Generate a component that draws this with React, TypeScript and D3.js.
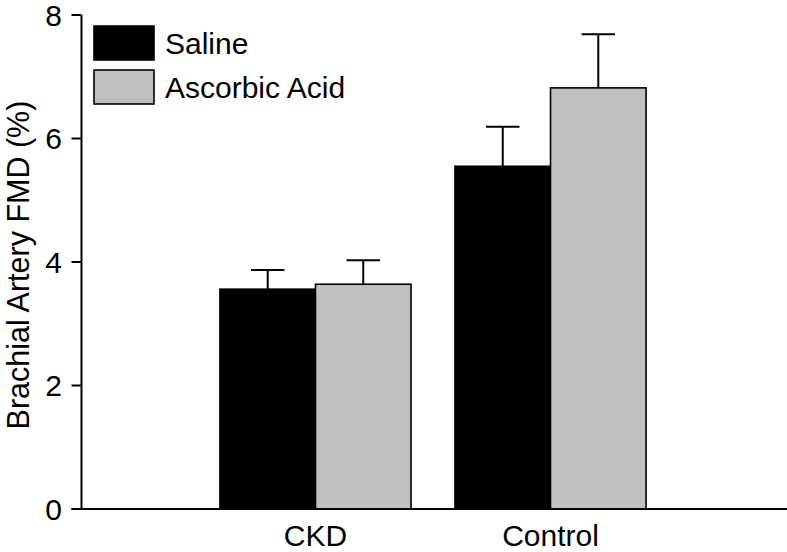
import React from "react";
import * as d3 from "d3";

const categories = ["CKD", "Control"];
const series = ["Saline", "Ascorbic Acid"];
const salineValues = [3.56, 5.55];
const salineErrors = [0.31, 0.64];
const ascorbicValues = [3.64, 6.82];
const ascorbicErrors = [0.39, 0.87];
const yTicks = [0, 2, 4, 6, 8];
const seriesColors = ["#000000", "#c0c0c0"];

const W = 787;
const H = 552;
const FONT = "'Liberation Sans', Arial, Helvetica, sans-serif";

export default function App() {
  const y = d3.scaleLinear().domain([0, 8]).range([509, 15]);
  const x0 = d3
    .scaleBand<string>()
    .domain(categories)
    .range([81.5, 784.5])
    .paddingInner(0.187)
    .paddingOuter(0.589);
  const x1 = d3.scaleBand<string>().domain(series).range([0, x0.bandwidth()]);
  const color = d3.scaleOrdinal<string, string>().domain(series).range(seriesColors);

  const values = [salineValues, ascorbicValues];
  const errors = [salineErrors, ascorbicErrors];
  const capW = x1.bandwidth() * 0.35;
  const axisX = 81.5;

  return (
    <svg
      width={W}
      height={H}
      style={{ position: "absolute", left: 0, top: 0, background: "#fff" }}
      fontFamily={FONT}
    >
      {/* bars */}
      {categories.map((cat, ci) =>
        series.map((s, si) => {
          const bx = (x0(cat) as number) + (x1(s) as number);
          const v = values[si][ci];
          const e = errors[si][ci];
          const cx = bx + x1.bandwidth() / 2;
          return (
            <g key={cat + s}>
              <line x1={cx} x2={cx} y1={y(v)} y2={y(v + e)} stroke="#000" strokeWidth={2} />
              <line
                x1={cx - capW / 2}
                x2={cx + capW / 2}
                y1={y(v + e)}
                y2={y(v + e)}
                stroke="#000"
                strokeWidth={2}
              />
              <rect
                x={bx}
                y={y(v)}
                width={x1.bandwidth()}
                height={y(0) - y(v)}
                fill={color(s)}
                stroke="#000"
                strokeWidth={1.6}
              />
            </g>
          );
        })
      )}
      {/* y axis */}
      <line x1={axisX} x2={axisX} y1={y(8)} y2={y(0)} stroke="#000" strokeWidth={2} />
      {yTicks.map((t) => (
        <g key={t}>
          <line x1={axisX - 10} x2={axisX} y1={y(t)} y2={y(t)} stroke="#000" strokeWidth={2} />
          <text
            x={62}
            y={y(t)}
            dy="0.36em"
            textAnchor="end"
            fontSize={30}
            fill="#000"
          >
            {t}
          </text>
        </g>
      ))}
      {/* x axis */}
      <line x1={axisX - 10} x2={W} y1={y(0)} y2={y(0)} stroke="#000" strokeWidth={2} />
      {categories.map((cat) => (
        <text
          key={cat}
          x={(x0(cat) as number) + x0.bandwidth() / 2}
          y={546}
          textAnchor="middle"
          fontSize={30}
          fill="#000"
        >
          {cat}
        </text>
      ))}
      {/* y title */}
      <text
        transform="translate(29,265) rotate(-90)"
        textAnchor="middle"
        fontSize={30.5}
        fill="#000"
      >
        Brachial Artery FMD (%)
      </text>
      {/* legend */}
      {series.map((s, i) => (
        <g key={s} transform={`translate(94,${26 + i * 44})`}>
          <rect x={0} y={0} width={60} height={34} fill={color(s)} stroke="#000" strokeWidth={1.6} />
          <text x={71} y={17} dy="0.36em" fontSize={30} fill="#000">
            {s}
          </text>
        </g>
      ))}
    </svg>
  );
}
